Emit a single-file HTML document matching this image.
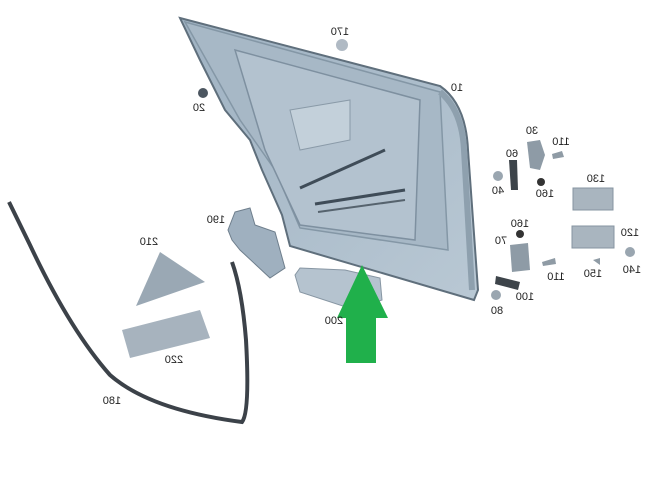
<!DOCTYPE html>
<html><head><style>
html,body{margin:0;padding:0;background:#fff;}
svg{display:block}
.t{font-family:"Liberation Sans",sans-serif;font-size:11px;fill:#222;}
</style></head><body>
<svg width="653" height="480" viewBox="0 0 653 480" xmlns="http://www.w3.org/2000/svg">
<defs>
<linearGradient id="g" x1="0" y1="0" x2="1" y2="1">
<stop offset="0" stop-color="#9fb2c2"/><stop offset="1" stop-color="#b9c8d4"/>
</linearGradient>
</defs>
<!-- door -->
<path d="M180,18 L440,86 Q466,104 468,150 L478,290 L474,300 L290,246 L282,215 L262,170 L250,140 L225,110 L200,60 Z" fill="url(#g)" stroke="#5f6f7c" stroke-width="2"/>
<path d="M185,22 L440,92 L448,250 L300,228 L275,170 L240,120 Z" fill="#a7b8c6" stroke="#8497a6" stroke-width="1.5"/>
<path d="M235,50 L420,100 L415,240 L300,225 L265,150 Z" fill="#b3c2cf" stroke="#7e90a0" stroke-width="1.5"/>
<line x1="300" y1="188" x2="385" y2="150" stroke="#3f4c58" stroke-width="3"/>
<line x1="315" y1="204" x2="405" y2="190" stroke="#3f4c58" stroke-width="3"/>
<line x1="318" y1="212" x2="405" y2="200" stroke="#56636e" stroke-width="2"/>
<path d="M290,110 L350,100 L350,140 L300,150 Z" fill="#c3d0da" stroke="#8a9aa8"/>
<path d="M440,92 Q462,110 464,150 L472,290" fill="none" stroke="#8ea0ae" stroke-width="6"/>
<!-- small parts -->
<circle cx="342" cy="45" r="6" fill="#b0bac4"/>
<circle cx="203" cy="93" r="5" fill="#4c5660"/>
<!-- 190 bracket -->
<path d="M235,212 L250,208 L255,225 L275,232 L285,268 L270,278 L240,250 L232,240 L228,230 Z" fill="#9fb0bf" stroke="#6e7e8c"/>
<!-- 200 -->
<path d="M295,275 L300,268 L345,270 L380,278 L382,300 L355,310 L300,292 Z" fill="#b5c3cf" stroke="#8796a3"/>
<!-- 210 triangle -->
<path d="M160,252 L205,282 L136,306 Z" fill="#9aa8b4"/>
<!-- 220 -->
<path d="M122,330 L200,310 L210,338 L130,358 Z" fill="#a7b3be"/>
<!-- 180 seal -->
<path d="M9,202 L30,245 Q70,330 110,375 Q150,410 242,422 Q250,412 246,340 Q242,290 232,262" fill="none" stroke="#3c4249" stroke-width="4"/>
<!-- hinges -->
<path d="M527,142 L540,140 L545,155 L540,170 L530,168 Z" fill="#8e9ba6"/>
<path d="M509,160 L517,160 L518,190 L511,190 Z" fill="#3d444a"/>
<circle cx="498" cy="176" r="5" fill="#9aa6b0"/>
<circle cx="541" cy="182" r="4" fill="#333"/>
<path d="M552,154 L562,151 L564,157 L553,159 Z" fill="#8f9ba5"/>
<rect x="573" y="188" width="40" height="22" fill="#a9b5bf" stroke="#8694a0"/>
<rect x="572" y="226" width="42" height="22" fill="#a9b5bf" stroke="#8694a0"/>
<circle cx="630" cy="252" r="5" fill="#9aa6b0"/>
<circle cx="520" cy="234" r="4" fill="#333"/>
<path d="M510,245 L528,243 L530,270 L512,272 Z" fill="#8e9ba6"/>
<path d="M496,276 L520,282 L518,290 L495,284 Z" fill="#3d444a"/>
<circle cx="496" cy="295" r="5" fill="#9aa6b0"/>
<path d="M542,262 L555,258 L556,264 L543,266 Z" fill="#8f9ba5"/>
<path d="M593,260 L600,258 L600,265 Z" fill="#8f9ba5"/>
<!-- arrow -->
<path d="M362,265 L388,318 L376,318 L376,363 L346,363 L346,318 L337,318 Z" fill="#20b04b"/>
<!-- labels (mirrored) -->
<g class="t">
<text transform="translate(340,35) scale(-1,1)" text-anchor="middle">170</text>
<text transform="translate(457,91) scale(-1,1)" text-anchor="middle">10</text>
<text transform="translate(199,111) scale(-1,1)" text-anchor="middle">20</text>
<text transform="translate(532,134) scale(-1,1)" text-anchor="middle">30</text>
<text transform="translate(561,145) scale(-1,1)" text-anchor="middle">110</text>
<text transform="translate(512,157) scale(-1,1)" text-anchor="middle">60</text>
<text transform="translate(498,194) scale(-1,1)" text-anchor="middle">40</text>
<text transform="translate(545,197) scale(-1,1)" text-anchor="middle">160</text>
<text transform="translate(596,182) scale(-1,1)" text-anchor="middle">130</text>
<text transform="translate(216,223) scale(-1,1)" text-anchor="middle">190</text>
<text transform="translate(520,227) scale(-1,1)" text-anchor="middle">160</text>
<text transform="translate(501,244) scale(-1,1)" text-anchor="middle">70</text>
<text transform="translate(630,236) scale(-1,1)" text-anchor="middle">120</text>
<text transform="translate(149,245) scale(-1,1)" text-anchor="middle">210</text>
<text transform="translate(632,273) scale(-1,1)" text-anchor="middle">140</text>
<text transform="translate(593,277) scale(-1,1)" text-anchor="middle">150</text>
<text transform="translate(556,280) scale(-1,1)" text-anchor="middle">110</text>
<text transform="translate(525,300) scale(-1,1)" text-anchor="middle">100</text>
<text transform="translate(497,314) scale(-1,1)" text-anchor="middle">80</text>
<text transform="translate(334,324) scale(-1,1)" text-anchor="middle">200</text>
<text transform="translate(174,363) scale(-1,1)" text-anchor="middle">220</text>
<text transform="translate(112,404) scale(-1,1)" text-anchor="middle">180</text>
</g>
</svg>
</body></html>
